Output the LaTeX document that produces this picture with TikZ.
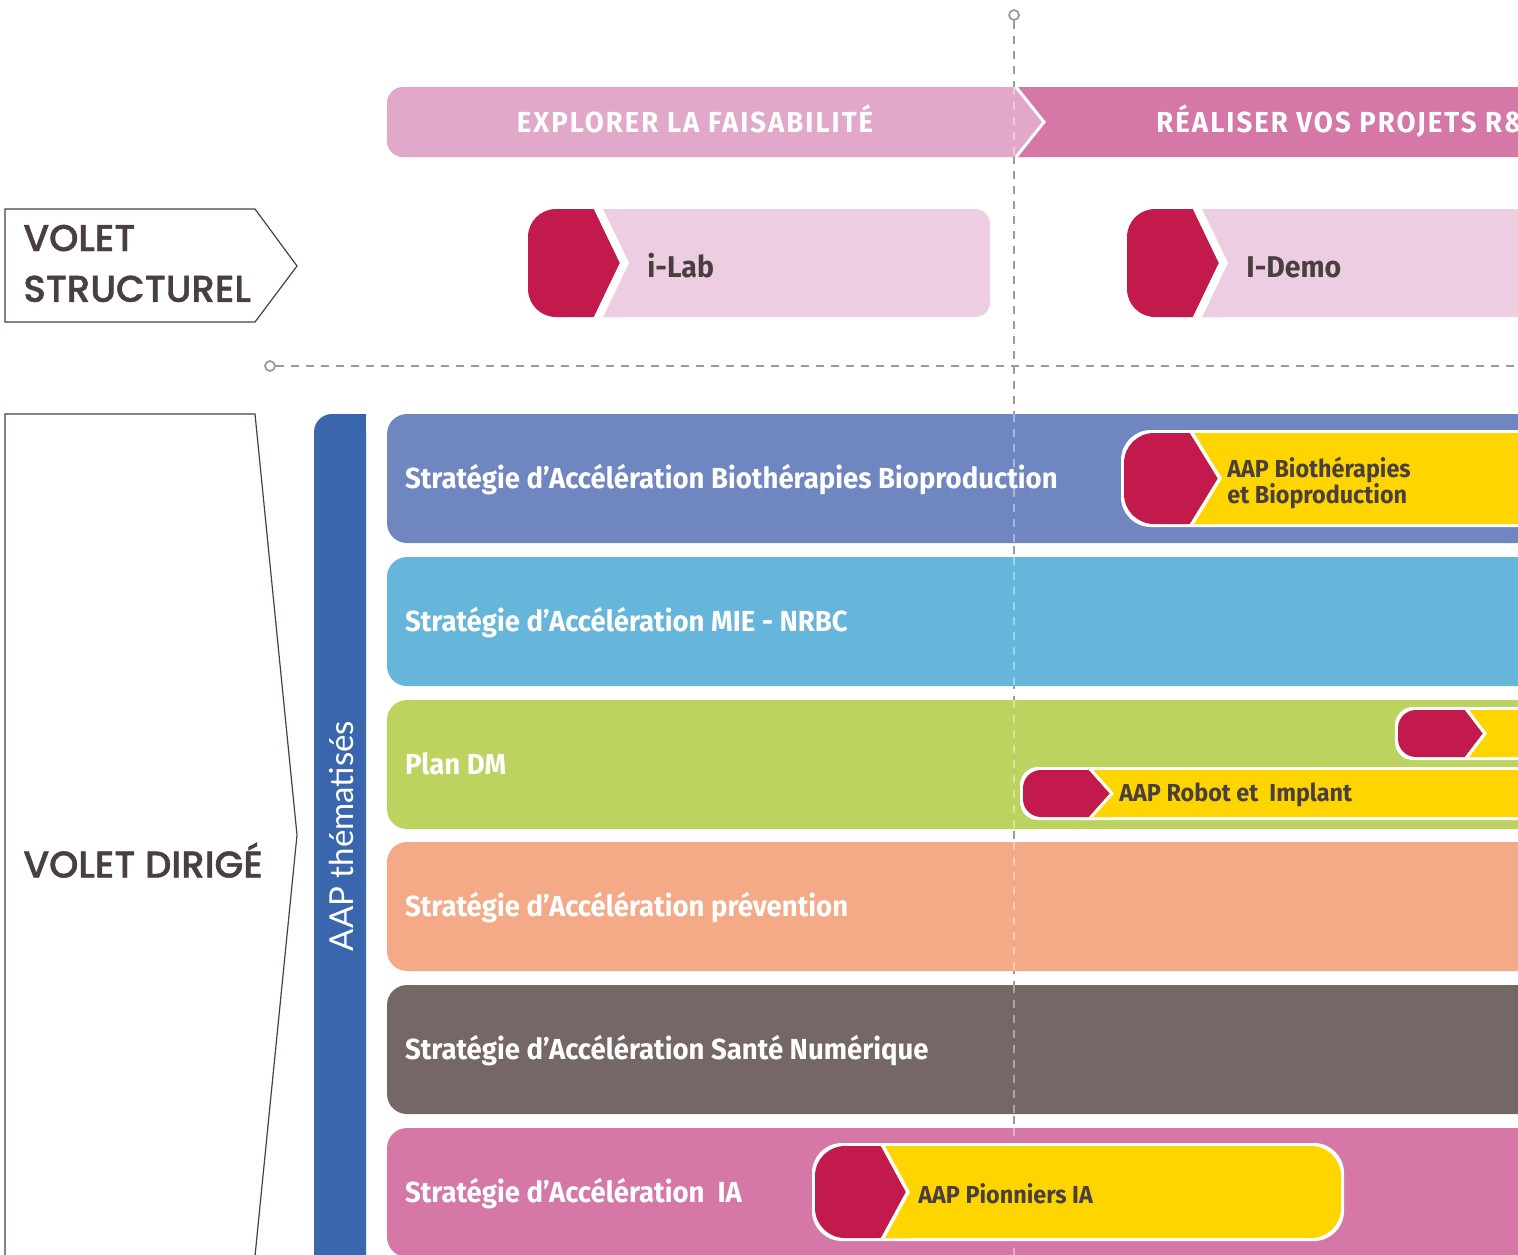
\documentclass[tikz,border=0pt]{standalone}
\usepackage{fontspec}
\setmainfont{Fira Sans}
\newfontfamily\dinfont{Fira Sans}[FakeStretch=0.95]
\newfontfamily\bannerfont{Fira Sans}[FakeStretch=0.95, LetterSpace=7]
\newfontfamily\voletfont{Poppins}[UprightFont=* Medium, FakeBold=1.2]
\newfontfamily\aapfont{Lato}
\usetikzlibrary{positioning}

\definecolor{headred}{HTML}{C21A4C}
\definecolor{aapyellow}{HTML}{FFD500}
\definecolor{labpink}{HTML}{EDCDE2}
\definecolor{explorepink}{HTML}{E2A8C9}
\definecolor{realisepink}{HTML}{D577A7}
\definecolor{aapblue}{HTML}{3A66AE}
\definecolor{biocol}{HTML}{7086C1}
\definecolor{miecol}{HTML}{66B5DA}
\definecolor{dmcol}{HTML}{BDD35F}
\definecolor{prevcol}{HTML}{F5AA87}
\definecolor{numcol}{HTML}{756765}
\definecolor{iacol}{HTML}{D577A7}
\definecolor{darktext}{HTML}{4A3F3F}
\definecolor{dashgray}{HTML}{9B9B9B}

\def\chevgap{4}
\newcommand\aappill[9]{%
  \fill[white, rounded corners=#8] (#1-3,#2-3) rectangle (#6+3,#3+3);
  \fill[#7, rounded corners=#9] (#4-30,#2) rectangle (#6,#3);
  \fill[headred, rounded corners=#8] (#1,#2) rectangle (#5,#3);
  \fill[#7] (#4,#2) -- (#5+3,#2) -- (#5+3,#3) -- (#4,#3) -- (#5,{(#2+#3)/2}) -- cycle;
  \fill[white] (#4,#2) -- (#5,{(#2+#3)/2}) -- (#4,#3) -- (#4+\chevgap,#3)
    -- (#5+\chevgap,{(#2+#3)/2}) -- (#4+\chevgap,#2) -- cycle;
}

\begin{document}
\begin{tikzpicture}[x=0.5pt, y=-0.5pt,
    guide/.style={draw=dashgray, line width=1pt, dash pattern=on 4pt off 3.5pt},
    guideover/.style={draw=white, opacity=0.4, line width=1pt, dash pattern=on 4pt off 3.5pt},
    endring/.style={circle, draw=dashgray, line width=0.9pt, fill=white, inner sep=0pt, minimum size=5pt},
    bar/.style={rounded corners=10pt, minimum width=576.5pt, minimum height=64.5pt, inner sep=0pt},
    stratlabel/.style={text=white, font=\dinfont\bfseries\fontsize{14.5}{16}\selectfont, text height=10pt, text depth=0pt, inner sep=0pt},
    bannertext/.style={stratlabel, font=\bannerfont\bfseries\fontsize{14.5}{16}\selectfont},
    aaplabel/.style={text=darktext, font=\dinfont\bfseries\fontsize{12.3}{14}\selectfont, text height=8.5pt, text depth=0pt, inner sep=0pt, anchor=west},
    lablabel/.style={aaplabel, font=\dinfont\bfseries\fontsize{15}{17}\selectfont, text height=10.3pt},
    volettext/.style={text=darktext, font=\voletfont\fontsize{18.6}{22}\selectfont, text height=13pt, text depth=0pt, inner sep=0pt, anchor=west},
    aaprot/.style={text=white, font=\aapfont\fontsize{16.5}{18}\selectfont, text height=12pt, text depth=0pt, inner sep=0pt, rotate=90},
    voletline/.style={draw=darktext, line width=0.6pt}]

\useasboundingbox (0,0) rectangle (1518,1254);
\clip (0,0) rectangle (1518,1254);

\node[endring] (vtop) at (1014,15) {};
\coordinate (vend) at (1014,1260);
\draw[guide] (vtop) -- (vend);
\node[endring] (hstart) at (270,366) {};
\coordinate (hend) at (1530,366);
\draw[guide] (hstart) -- (hend);

\fill[explorepink, rounded corners=8pt] (387,87) rectangle (1050,157);
\fill[realisepink] (1016,87) -- (1044,122) -- (1016,157) -- (1560,157) -- (1560,87) -- cycle;
\draw[guideover] (vtop |- 0,87) -- (vtop |- 0,157);
\draw[white, line width=1.5pt] (1016,87) -- (1044,122) -- (1016,157);
\node[bannertext] (explore) at (695,122) {EXPLORER LA FAISABILITÉ};
\node[bannertext, anchor=west] (realise) at (1156,122) {RÉALISER VOS PROJETS R\&D};

\draw[voletline] (5,209) -- (255,209) -- (297,266) -- (255,322) -- (5,322) -- cycle;
\node[volettext] (volet1) at (23,238) {VOLET};
\node[volettext] (volet2) [below=12pt of volet1.south west, anchor=north west] {STRUCTUREL};

\def\chevgap{9}
\aappill{528}{209}{317}{594}{620}{990}{labpink}{14pt}{7.5pt}
\node[lablabel] (ilab) at (647,267) {i-Lab};
\aappill{1127}{209}{317}{1193}{1219}{1560}{labpink}{14pt}{7.5pt}
\node[lablabel] (idemo) at (1246,267) {I-Demo};
\def\chevgap{4}

\draw[voletline] (5,414) -- (255,414) -- (297,835) -- (255,1256) -- (5,1256) -- cycle;
\node[volettext] (dirige) at (23,864.5) {VOLET DIRIGÉ};

\fill[aapblue, rounded corners=9pt] (314,414) rectangle (366,1300);
\fill[aapblue] (340,414) rectangle (366,460);
\node[aaprot] (aapthem) at (341,836) {AAP thématisés};

\node[bar, fill=biocol] (bio) at (963.5,478.5) {};
\node[stratlabel] (biolab) [right=9pt of bio.west] {Stratégie d’Accélération Biothérapies Bioproduction};
\node[bar, fill=miecol] (mie) at (963.5,621.5) {};
\node[stratlabel] (mielab) [right=9pt of mie.west] {Stratégie d’Accélération MIE - NRBC};
\node[bar, fill=dmcol] (dm) at (963.5,764.5) {};
\node[stratlabel] (dmlab) [right=9pt of dm.west] {Plan DM};
\node[bar, fill=prevcol] (prev) at (963.5,906.5) {};
\node[stratlabel] (prevlab) [right=9pt of prev.west] {Stratégie d’Accélération prévention};
\node[bar, fill=numcol] (num) at (963.5,1049.5) {};
\node[stratlabel] (numlab) [right=9pt of num.west] {Stratégie d’Accélération Santé Numérique};
\node[bar, fill=iacol] (ia) at (963.5,1192.5) {};
\node[stratlabel] (ialab) [right=9pt of ia.west] {Stratégie d’Accélération~ IA};

\draw[guideover] (vtop |- bio.north) -- (vtop |- bio.south);
\draw[guideover] (vtop |- mie.north) -- (vtop |- mie.south);
\draw[guideover] (vtop |- dm.north) -- (vtop |- dm.south);
\draw[guideover] (vtop |- prev.north) -- (vtop |- prev.south);
\draw[guideover] (vtop |- num.north) -- (vtop |- num.south);
\draw[guideover] (vtop |- ia.north) -- (vtop |- ia.south);

\aappill{1124}{433}{524}{1190}{1218}{1560}{aapyellow}{15pt}{15pt}
\node[aaplabel] (bio1) at (1227,468.5) {AAP Biothérapies};
\node[aaplabel] (bio2) [below=4.5pt of bio1.south west, anchor=north west] {et Bioproduction};
\aappill{1398}{710}{757}{1465}{1483}{1560}{aapyellow}{9pt}{9pt}
\aappill{1023}{770}{817}{1089}{1110}{1560}{aapyellow}{9pt}{9pt}
\node[aaplabel] (robot) at (1119,793) {AAP Robot et~ Implant};
\aappill{815}{1146}{1238}{881}{906}{1341}{aapyellow}{15pt}{15pt}
\node[aaplabel] (pionniers) at (918,1195) {AAP Pionniers IA};
\end{tikzpicture}
\end{document}
